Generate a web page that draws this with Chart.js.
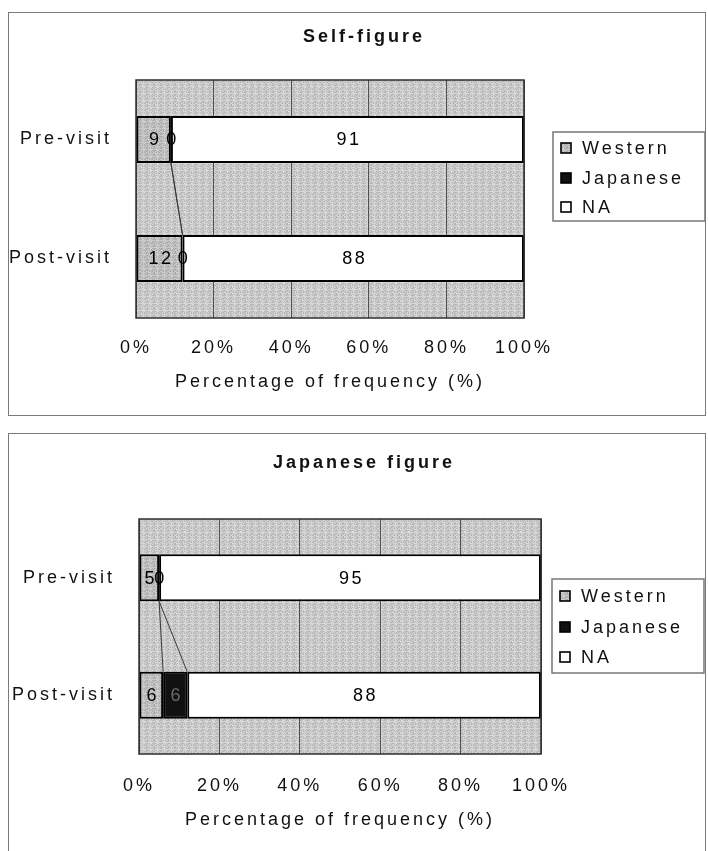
<!DOCTYPE html>
<html>
<head>
<meta charset="utf-8">
<script src="https://cdn.jsdelivr.net/npm/chart.js@4.4.0/dist/chart.umd.min.js"></script>
<style>
  body { margin: 0; background: #fff; width: 708px; height: 851px; overflow: hidden; position: relative; }
  .frame { position: absolute; left: 8px; width: 698px; border: 1.5px solid #7a7a7a; box-sizing: border-box; }
  #frame1 { top: 12px; height: 404px; }
  #frame2 { top: 433px; height: 440px; }
  canvas { position: absolute; left: 0; }
  #chart1 { top: 0; width: 708px; height: 425px; }
  #chart2 { top: 425px; width: 708px; height: 426px; }
</style>
</head>
<body>
<div class="frame" id="frame1"></div>
<div class="frame" id="frame2"></div>
<canvas id="chart1" width="708" height="425"></canvas>
<canvas id="chart2" width="708" height="426"></canvas>
<script>
// categories and series
const visits = ['Pre-visit', 'Post-visit'];
const seriesNames = ['Western', 'Japanese', 'NA'];
const xTickValues = [0, 20, 40, 60, 80, 100];

// Self-figure
const selfWestern = [9, 12];
const selfJapanese = [0, 0];
const selfNA = [91, 88];

// Japanese figure
const japWestern = [5, 6];
const japJapanese = [0, 6];
const japNA = [95, 88];

const FONT = 'Arial, "Liberation Sans", sans-serif';
const SIZE = 18;
const SPACING = '3px';

// speckled grey fill like the old spreadsheet texture
function grain(base) {
  const tile = document.createElement('canvas');
  tile.width = tile.height = 7;
  const g = tile.getContext('2d');
  for (let y = 0; y < 7; y++) {
    for (let x = 0; x < 7; x++) {
      const v = base + ((x * 5 + y * 3 + x * y * 2) % 9 - 4) * 6;
      g.fillStyle = `rgb(${v},${v},${v})`;
      g.fillRect(x, y, 1, 1);
    }
  }
  return g.createPattern(tile, 'repeat');
}

const plotFill = grain(201);
const westernFill = grain(190);
const seriesFill = [westernFill, '#111111', '#ffffff'];

const panelPlugin = {
  id: 'panel',
  beforeDraw(chart) {
    const { ctx, chartArea: a } = chart;
    ctx.letterSpacing = SPACING;
    ctx.save();
    ctx.fillStyle = plotFill;
    ctx.fillRect(a.left, a.top, a.width, a.height);
    ctx.restore();
  },
  afterDatasetsDraw(chart) {
    const { ctx, chartArea: a } = chart;
    ctx.save();

    // series lines between the stacked segment ends
    ctx.strokeStyle = '#3a3a3a';
    ctx.lineWidth = 1;
    const n = chart.data.datasets.length;
    for (let d = 0; d < n - 1; d++) {
      const els = chart.getDatasetMeta(d).data;
      for (let i = 0; i < els.length - 1; i++) {
        const p = els[i].getProps(['x', 'y', 'height'], true);
        const q = els[i + 1].getProps(['x', 'y', 'height'], true);
        ctx.beginPath();
        ctx.moveTo(p.x, p.y + p.height / 2);
        ctx.lineTo(q.x, q.y - q.height / 2);
        ctx.stroke();
      }
    }

    // plot area border
    ctx.strokeStyle = '#2e2e2e';
    ctx.lineWidth = 1.5;
    ctx.strokeRect(a.left, a.top, a.width, a.height);

    // value labels in the middle of each segment
    ctx.font = SIZE + 'px ' + FONT;
    ctx.letterSpacing = '2.5px';
    ctx.textAlign = 'center';
    ctx.textBaseline = 'middle';
    chart.data.datasets.forEach((ds, d) => {
      chart.getDatasetMeta(d).data.forEach((el, i) => {
        const p = el.getProps(['x', 'y', 'base'], true);
        // dark segment keeps its label just faintly visible
        ctx.fillStyle = (d === 1 && ds.data[i] > 0) ? '#6a6a6a' : '#000';
        ctx.fillText(String(ds.data[i]), (p.x + p.base) / 2 + 1.5, p.y + 1);
      });
    });
    ctx.restore();
  },
  afterDraw(chart, args, opts) {
    const { ctx } = chart;
    ctx.save();
    ctx.letterSpacing = SPACING;

    // title
    ctx.font = 'bold ' + SIZE + 'px ' + FONT;
    ctx.fillStyle = '#111';
    ctx.textAlign = 'center';
    ctx.textBaseline = 'middle';
    ctx.fillText(opts.title, opts.titleX + 2, opts.titleY);

    // legend box
    const L = opts.legend;
    ctx.fillStyle = '#fff';
    ctx.fillRect(L.left, L.top, L.width, L.height);
    ctx.strokeStyle = '#777';
    ctx.lineWidth = 1.5;
    ctx.strokeRect(L.left, L.top, L.width, L.height);
    ctx.font = SIZE + 'px ' + FONT;
    ctx.textAlign = 'left';
    chart.data.datasets.forEach((ds, d) => {
      const y = L.rows[d];
      ctx.fillStyle = ds.backgroundColor;
      ctx.fillRect(L.left + 8, y - 5, 10, 10);
      ctx.strokeStyle = '#000';
      ctx.lineWidth = 1.6;
      ctx.strokeRect(L.left + 8, y - 5, 10, 10);
      ctx.fillStyle = '#111';
      ctx.fillText(ds.label, L.left + 29, y + 1);
    });
    ctx.restore();
  }
};

function makeChart(id, western, japanese, na, geo) {
  const values = [western, japanese, na];
  return new Chart(document.getElementById(id), {
    type: 'bar',
    data: {
      labels: visits,
      datasets: seriesNames.map((name, d) => ({
        label: name,
        data: values[d],
        backgroundColor: seriesFill[d],
        borderColor: '#000',
        borderWidth: 2,
        borderSkipped: false,
        categoryPercentage: 1,
        barPercentage: geo.barPct
      }))
    },
    options: {
      indexAxis: 'y',
      responsive: false,
      animation: false,
      events: [],
      layout: { padding: { left: 0, right: geo.padRight, top: geo.padTop, bottom: 0 } },
      scales: {
        x: {
          stacked: true,
          min: 0,
          max: 100,
          afterBuildTicks(scale) { scale.ticks = xTickValues.map(v => ({ value: v })); },
          afterFit(scale) { scale.height = geo.xHeight; },
          grid: { color: '#505050', lineWidth: 1, drawTicks: false },
          border: { display: false },
          ticks: {
            padding: geo.tickPad,
            color: '#111',
            font: { family: FONT, size: SIZE },
            callback: v => v + '%'
          },
          title: {
            display: true,
            text: 'Percentage of frequency (%)',
            color: '#111',
            font: { family: FONT, size: SIZE },
            padding: { top: 0, bottom: geo.titlePad }
          }
        },
        y: {
          stacked: true,
          afterFit(scale) { scale.width = geo.yWidth; },
          grid: { display: false },
          border: { display: false },
          ticks: {
            padding: 16,
            color: '#111',
            font: { family: FONT, size: SIZE }
          }
        }
      },
      plugins: {
        legend: { display: false },
        tooltip: { enabled: false },
        panel: {
          title: geo.title,
          titleX: 362,
          titleY: geo.titleY,
          legend: geo.legend
        }
      }
    },
    plugins: [panelPlugin]
  });
}

makeChart('chart1', selfWestern, selfJapanese, selfNA, {
  title: 'Self-figure',
  titleY: 37,
  padRight: 184,
  padTop: 80,
  yWidth: 136,
  xHeight: 107,
  tickPad: 19,
  titlePad: 32,
  barPct: 0.395,
  legend: { left: 553, top: 132, width: 152, height: 89, rows: [148, 178, 207] }
});

makeChart('chart2', japWestern, japJapanese, japNA, {
  title: 'Japanese figure',
  titleY: 38,
  padRight: 167,
  padTop: 94,
  yWidth: 139,
  xHeight: 97,
  tickPad: 21,
  titlePad: 20,
  barPct: 0.4,
  legend: { left: 552, top: 154, width: 152, height: 94, rows: [171, 202, 232] }
});
</script>
</body>
</html>
